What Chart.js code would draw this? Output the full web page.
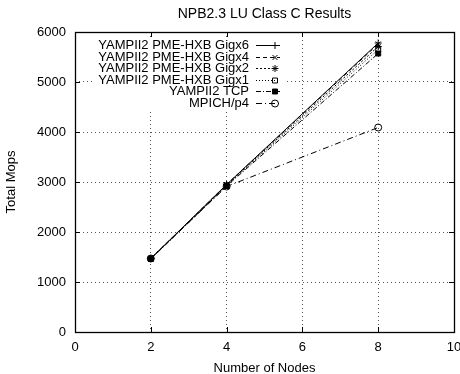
<!DOCTYPE html>
<html>
<head>
<meta charset="utf-8">
<script src="https://cdn.jsdelivr.net/npm/chart.js@4/dist/chart.umd.min.js"></script>
<style>
html,body{margin:0;padding:0;background:#fff;}
#wrap{width:460px;height:374px;}
</style>
</head>
<body>
<div id="wrap"><canvas id="c" width="460" height="374"></canvas></div>
<script>
const chartTitle = "NPB2.3 LU Class C Results";
const xTitle = "Number of Nodes";
const yTitle = "Total Mops";
const nodes = [2, 4, 8];
const seriesLabels = ["YAMPII2 PME-HXB Gigx6", "YAMPII2 PME-HXB Gigx4", "YAMPII2 PME-HXB Gigx2", "YAMPII2 PME-HXB Gigx1", "YAMPII2 TCP", "MPICH/p4"];
const gigx6 = [1470, 2950, 5780];
const gigx4 = [1470, 2950, 5760];
const gigx2 = [1470, 2940, 5710];
const gigx1 = [1465, 2930, 5650];
const tcp   = [1460, 2920, 5570];
const mpich = [1470, 2910, 4090];
const xTicks = [0, 2, 4, 6, 8, 10];
const yTicks = [0, 1000, 2000, 3000, 4000, 5000, 6000];

const FONT = "'Liberation Sans', Arial, Helvetica, sans-serif";
const styles = [
  {dash: [], point: 'cross', fill: false},
  {dash: [4, 3], point: 'crossRot', fill: false},
  {dash: [2, 2], point: 'star', fill: false},
  {dash: [1, 2], point: 'rect', fill: false},
  {dash: [5, 2, 1, 2], point: 'rect', fill: true},
  {dash: [6, 3, 1, 3], point: 'circle', fill: false}
];
const values = [gigx6, gigx4, gigx2, gigx1, tcp, mpich];

const datasets = values.map((v, i) => ({
  label: seriesLabels[i],
  data: nodes.map((n, j) => ({x: n, y: v[j]})),
  borderColor: '#000',
  borderWidth: 1,
  borderDash: styles[i].dash,
  pointStyle: styles[i].point,
  pointRadius: 3.5,
  pointBorderWidth: 1,
  pointBorderColor: '#000',
  pointBackgroundColor: styles[i].fill ? '#000' : 'rgba(0,0,0,0)',
  fill: false,
  tension: 0
}));

const framePlugin = {
  id: 'frame',
  beforeDatasetsDraw(chart) {
    const ctx = chart.ctx, a = chart.chartArea;
    const xs = chart.scales.x, ys = chart.scales.y;
    ctx.save();
    ctx.fillStyle = '#fff';
    ctx.fillRect(92, 37, 192, 75);
    ctx.setLineDash([]);
    ctx.strokeStyle = '#000';
    ctx.lineWidth = 1;
    const tl = 5;
    ctx.beginPath();
    xTicks.forEach(t => {
      const px = Math.round(xs.getPixelForValue(t)) + 0.5;
      ctx.moveTo(px, a.bottom); ctx.lineTo(px, a.bottom - tl);
      ctx.moveTo(px, a.top); ctx.lineTo(px, a.top + tl);
    });
    yTicks.forEach(t => {
      const py = Math.round(ys.getPixelForValue(t)) + 0.5;
      ctx.moveTo(a.left, py); ctx.lineTo(a.left + tl, py);
      ctx.moveTo(a.right, py); ctx.lineTo(a.right - tl, py);
    });
    ctx.stroke();
    ctx.lineWidth = 1.3;
    ctx.strokeRect(Math.round(a.left) + 0.5, Math.round(a.top) + 0.5, Math.round(a.right - a.left), Math.round(a.bottom - a.top));
    ctx.fillStyle = '#000';
    ctx.font = '14px ' + FONT;
    ctx.textAlign = 'center';
    ctx.textBaseline = 'middle';
    ctx.fillText(chartTitle, (a.left + a.right) / 2, 14);
    ctx.restore();
  },
  afterDatasetsDraw(chart) {
    const ctx = chart.ctx;
    ctx.save();
    ctx.font = '13px ' + FONT;
    ctx.textAlign = 'right';
    ctx.textBaseline = 'middle';
    chart.data.datasets.forEach((ds, i) => {
      const y = 45 + i * 11.5;
      ctx.fillStyle = '#000';
      ctx.fillText(ds.label, 249, y + 0.5);
      ctx.strokeStyle = '#000';
      ctx.lineWidth = 1;
      ctx.setLineDash(ds.borderDash);
      ctx.beginPath();
      ctx.moveTo(256, Math.round(y) + 0.5);
      ctx.lineTo(280, Math.round(y) + 0.5);
      ctx.stroke();
      ctx.setLineDash([]);
      ctx.fillStyle = ds.pointBackgroundColor;
      Chart.helpers.drawPoint(ctx, {pointStyle: ds.pointStyle, radius: 3.5, rotation: 0, borderWidth: 1}, 275, Math.round(y) + 0.5);
    });
    ctx.restore();
  }
};

new Chart(document.getElementById('c'), {
  type: 'line',
  data: {datasets},
  options: {
    responsive: false,
    animation: false,
    layout: {padding: {top: 32, right: 6, left: 0, bottom: 0}},
    plugins: {legend: {display: false}, title: {display: false}, tooltip: {enabled: false}},
    scales: {
      x: {
        type: 'linear', min: 0, max: 10,
        afterBuildTicks: s => { s.ticks = xTicks.map(v => ({value: v})); },
        afterFit: s => { s.height = 42; s.paddingRight = 0; s.paddingLeft = 0; },
        ticks: {color: '#000', font: {family: FONT, size: 13}, padding: 8, maxRotation: 0, callback: v => String(v)},
        grid: {color: '#555', drawTicks: false, lineWidth: 1},
        border: {display: false, dash: [1, 3]},
        title: {display: true, text: xTitle, color: '#000', font: {family: FONT, size: 13}, padding: {top: 0, bottom: -2}}
      },
      y: {
        type: 'linear', min: 0, max: 6000,
        afterBuildTicks: s => { s.ticks = yTicks.map(v => ({value: v})); },
        afterFit: s => { s.width = 75; s.paddingTop = 0; s.paddingBottom = 0; },
        ticks: {color: '#000', font: {family: FONT, size: 13}, padding: 9, callback: v => String(v)},
        grid: {color: '#555', drawTicks: false, lineWidth: 1},
        border: {display: false, dash: [1, 3]},
        title: {display: true, text: yTitle, color: '#000', font: {family: FONT, size: 13}, padding: {top: 4, bottom: 0}}
      }
    }
  },
  plugins: [framePlugin]
});
</script>
</body>
</html>
